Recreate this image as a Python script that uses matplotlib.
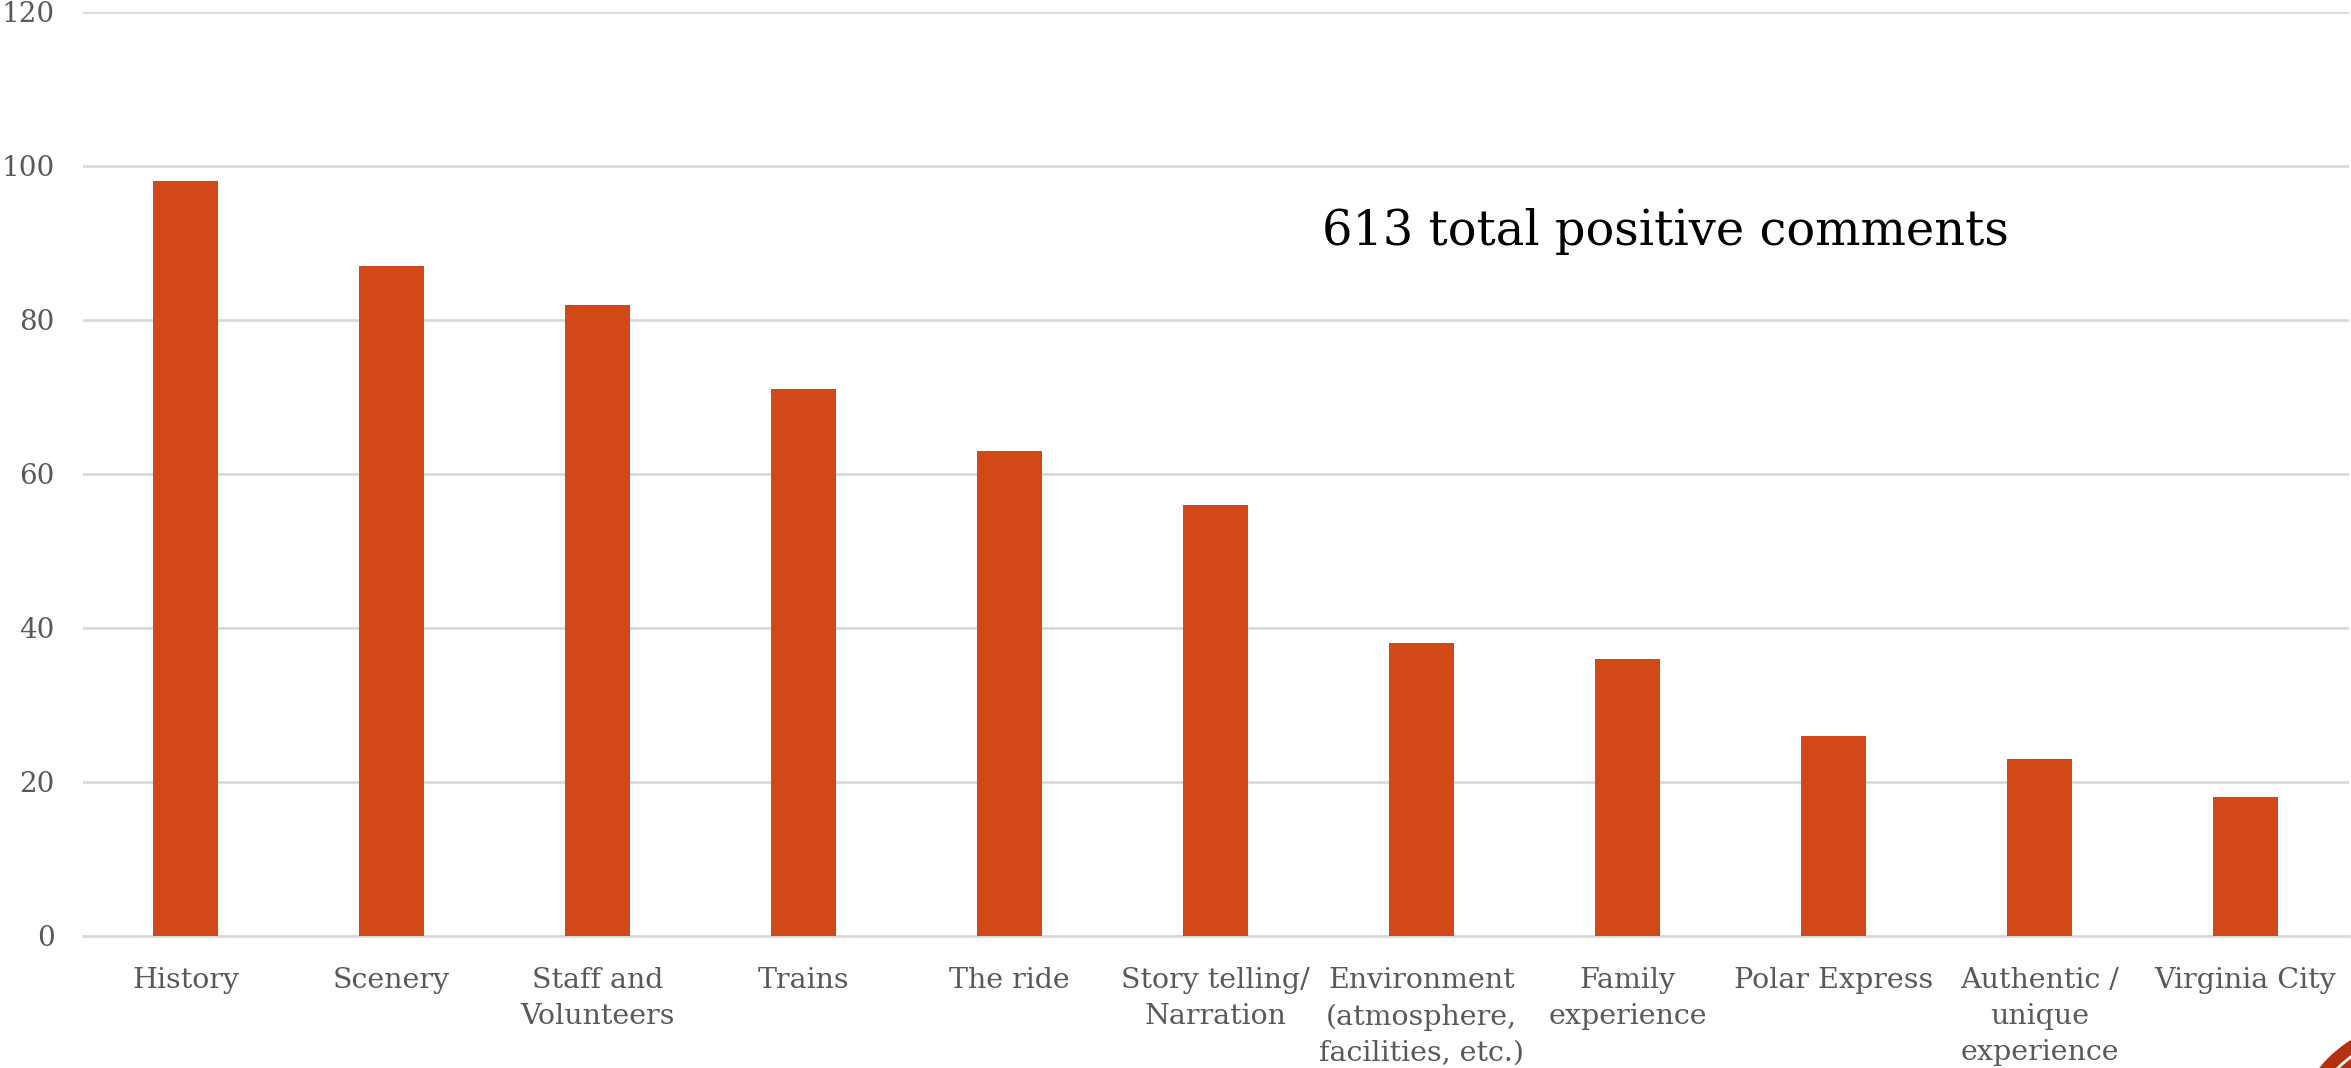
import numpy as np
from matplotlib import pyplot as plt
from matplotlib.patches import Ellipse

plt.rcParams['font.family'] = ['DejaVu Serif', 'DejaVu Sans']

# Data
categories = [
    "History", "Scenery", "Staff and\nVolunteers", "Trains", "The ride",
    "Story telling/\nNarration", "Environment\n(atmosphere,\nfacilities, etc.)",
    "Family\nexperience", "Polar Express", "Authentic /\nunique\nexperience",
    "Virginia City"
]
comment_counts = [98, 87, 82, 71, 63, 56, 38, 36, 26, 23, 18]
total_label = "613 total positive comments"

bar_color = "#D34817"
grid_color = "#D9D9D9"
text_color = "#595959"

W, H = 2351, 1068
fig = plt.figure(figsize=(W / 100, H / 100), dpi=100)
ax = fig.add_axes([82.5 / W, 1 - 936 / H, 2266 / W, 924 / H])

x_index = np.arange(len(categories))
ax.bar(x_index, comment_counts, width=0.315, color=bar_color, zorder=3)

ax.set_xlim(-0.5, len(categories) - 0.5)
ax.set_ylim(0, 120)
ax.set_yticks(np.arange(0, 121, 20))
ax.set_xticks(x_index)
ax.set_xticklabels(categories, linespacing=1.45)

ax.grid(axis='y', color=grid_color, linewidth=2, zorder=0)
for side in ['top', 'right', 'left']:
    ax.spines[side].set_visible(False)
ax.spines['bottom'].set_color(grid_color)
ax.spines['bottom'].set_linewidth(2)

ax.tick_params(axis='y', length=0, pad=20, labelsize=20, labelcolor=text_color)
ax.tick_params(axis='x', length=0, pad=22, labelsize=20.5, labelcolor=text_color)

# Total annotation
ax.text(0.547, 0.762, total_label, transform=ax.transAxes, fontsize=34.5,
        color='black', ha='left', va='center')

# Logo corner
cx, cy, r = 2420 / W, (H - 1150) / H, 130
fig.patches.append(Ellipse((cx, cy), 2 * r / W, 2 * r / H, transform=fig.transFigure,
                           facecolor='#B5300E', edgecolor='none'))
fig.patches.append(Ellipse((cx, cy), 2 * (r - 14) / W, 2 * (r - 14) / H,
                           transform=fig.transFigure, facecolor='none',
                           edgecolor='white', linewidth=2))

plt.savefig('out.png', dpi=100)
